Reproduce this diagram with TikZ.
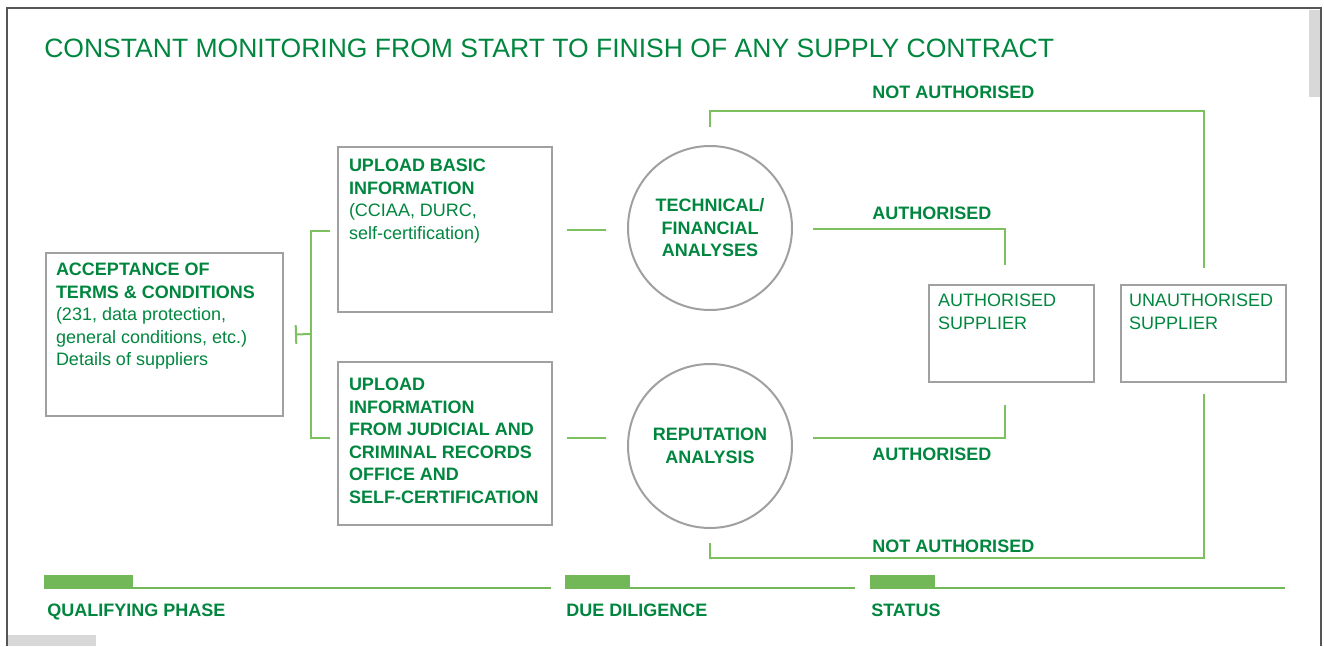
\documentclass[tikz,border=0pt]{standalone}
\usepackage{fontspec}
\setmainfont{Liberation Sans}
\usetikzlibrary{calc,arrows.meta}

\definecolor{vertTexte}{RGB}{0,134,62}
\definecolor{vertTrait}{RGB}{125,192,95}
\definecolor{vertBarre}{RGB}{114,184,88}
\definecolor{grisBord}{RGB}{160,160,160}
\definecolor{grisCadre}{RGB}{85,85,85}
\definecolor{grisClair}{RGB}{216,216,216}

\newcommand{\corps}{\fontsize{13.5}{16.9}\selectfont}
\newcommand{\contenu}[3]{\parbox[t][#2][t]{#1}{\raggedright #3}}

\tikzset{
  lien/.style={draw=vertTrait, line width=1.5pt},
  boite/.style={draw=grisBord, line width=1.5pt, anchor=north west, text=vertTexte, font=\corps},
  rond/.style={circle, draw=grisBord, line width=1.5pt, minimum size=123pt, inner sep=0pt,
    align=center, text=vertTexte, font=\corps\bfseries},
  etiquette/.style={anchor=base west, inner sep=0pt, text=vertTexte, font=\corps\bfseries},
  regle/.style={draw=vertBarre, line width=2pt}
}

\begin{document}
\begin{tikzpicture}[x=0.75pt, y=-0.75pt]
\useasboundingbox (0,0) rectangle (1324,646);

% Cadre
\draw[grisCadre, line width=1.5pt] (7,646) -- (7,8) -- (1321,8) -- (1321,646);
\fill[grisClair] (1309,10) rectangle (1320,97);
\fill[grisClair] (8,635) rectangle (96,646);

\node[anchor=base west, inner sep=0pt, text=vertTexte, font=\fontsize{19.9}{24}\selectfont]
  (titre) at (44,57) {CONSTANT MONITORING FROM START TO FINISH OF ANY SUPPLY CONTRACT};

% Phase de qualification
\node[boite, inner xsep=7.5pt, inner ysep=7.5pt] (accept) at (45,252)
  {\contenu{162.75pt}{107.25pt}{\textbf{ACCEPTANCE OF\\TERMS \& CONDITIONS}\\(231, data protection,\\general conditions, etc.)\\Details of suppliers}};
\node[boite, inner xsep=8.25pt, inner ysep=9pt] (basic) at (337,146)
  {\contenu{144pt}{105.75pt}{\textbf{UPLOAD BASIC\\INFORMATION}\\(CCIAA, DURC,\\self-certification)}};
\node[boite, inner xsep=8.25pt, inner ysep=12pt] (judic) at (337,361)
  {\contenu{144pt}{98.25pt}{\textbf{UPLOAD\\INFORMATION\\FROM JUDICIAL AND\\CRIMINAL RECORDS\\OFFICE AND\\\mbox{SELF-CERTIFICATION}}}};

\coordinate (fourche) at (311,334);
\draw[lien, {Bar[width=14pt]}-] ($(accept.east)+(11,0)$) -- (fourche);
\draw[lien] ($(basic.west)+(-7,1.5)$) -| (fourche) |- ($(judic.west)+(-7,-5.5)$);

% Due diligence
\node[rond] (tech) at (710,228) {TECHNICAL/\\FINANCIAL\\ANALYSES};
\node[rond] (rep) at (710,446) {REPUTATION\\ANALYSIS};
\draw[lien, shorten <=10.5pt, shorten >=15.75pt] (basic.east) -- (basic.east -| tech.west);
\draw[lien, shorten <=10.5pt, shorten >=15.75pt] ($(judic.east)+(0,-5.5)$) coordinate (j) -- (j -| rep.west);

% Statut
\node[boite, inner xsep=6.75pt, inner ysep=6.75pt] (autor) at (928,284)
  {\contenu{110.25pt}{59.25pt}{AUTHORISED\\SUPPLIER}};
\node[boite, inner xsep=6pt, inner ysep=6.75pt] (nonautor) at (1120,284)
  {\contenu{111.75pt}{59.25pt}{UNAUTHORISED\\SUPPLIER}};

\draw[lien] ($(tech.east)+(20,1)$) -| ($(autor.north)+(-6.5,-19)$);
\draw[lien] ($(j -| rep.east)+(20,0)$) -| ($(autor.south)+(-6.5,22)$);
\draw[lien] ($(tech.north)+(0,-18)$) -- ++(0,-16) -| ($(nonautor.north)+(0,-16)$);
\draw[lien] ($(rep.south)+(0,14)$) -- ++(0,15) -| ($(nonautor.south)+(0,11)$);

\node[etiquette] (nonhaut) at (872,98) {NOT AUTHORISED};
\node[etiquette] (ouihaut) at (872,219) {AUTHORISED};
\node[etiquette] (ouibas) at (872,460) {AUTHORISED};
\node[etiquette] (nonbas) at (872,552) {NOT AUTHORISED};

% Phases
\draw[regle] (44,588) -- (551,588);
\draw[regle] (565,588) -- (855,588);
\draw[regle] (870,588) -- (1285,588);
\fill[vertBarre] (44,575) rectangle (133,589);
\fill[vertBarre] (565,575) rectangle (630,589);
\fill[vertBarre] (870,575) rectangle (935,589);
\node[etiquette] (qualif) at (47,616) {QUALIFYING PHASE};
\node[etiquette] (diligence) at (566,616) {DUE DILIGENCE};
\node[etiquette] (statut) at (871,616) {STATUS};
\end{tikzpicture}
\end{document}
